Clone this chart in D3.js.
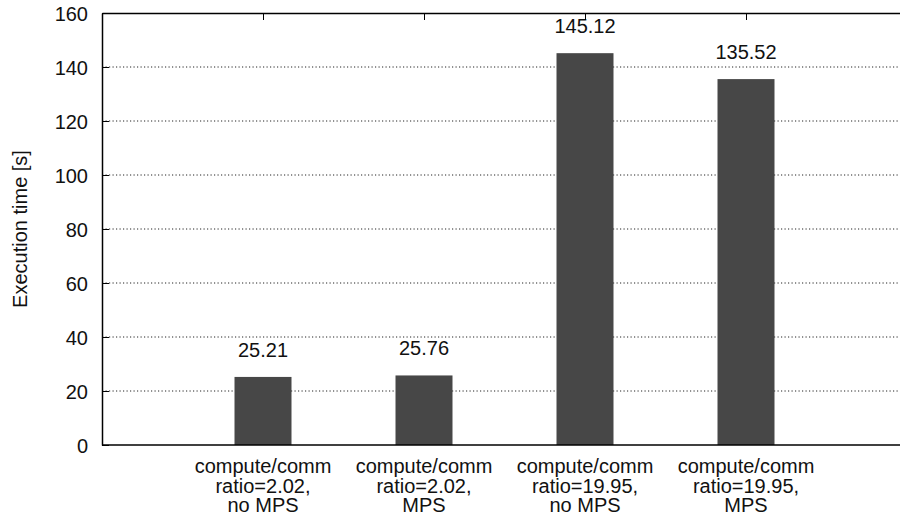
<!DOCTYPE html>
<html>
<head>
<meta charset="utf-8">
<script src="https://cdn.jsdelivr.net/npm/d3@7"></script>
<style>
  html, body { margin: 0; padding: 0; background: #fff; }
  svg { display: block; }
  text { font-family: "Liberation Sans", Arial, Helvetica, sans-serif; fill: #111; }
</style>
</head>
<body>
<svg id="chart" width="900" height="518"></svg>
<script>
const categories = [
  ["compute/comm", "ratio=2.02,", "no MPS"],
  ["compute/comm", "ratio=2.02,", "MPS"],
  ["compute/comm", "ratio=19.95,", "no MPS"],
  ["compute/comm", "ratio=19.95,", "MPS"]
];
const values = [25.21, 25.76, 145.12, 135.52];
const yTicks = [0, 20, 40, 60, 80, 100, 120, 140, 160];
const yLabel = "Execution time [s]";

(function () {
const svg = d3.select("#chart");
const mLeft = 102, mRight = 907, mTop = 13, mBottom = 445;
const fs = 20;

const x = d3.scaleLinear().domain([-1, 4]).range([mLeft, mRight]);
const y = d3.scaleLinear().domain([0, 160]).range([mBottom, mTop]);
const barW = (x(1) - x(0)) * 0.354;

// grid
svg.append("g").selectAll("line")
  .data(yTicks.filter(t => t > 0 && t < 160))
  .join("line")
  .attr("x1", mLeft).attr("x2", mRight)
  .attr("y1", d => y(d)).attr("y2", d => y(d))
  .attr("stroke", "#222").attr("stroke-width", 1)
  .attr("stroke-dasharray", "1.2,2.3");

// bars
svg.append("g").selectAll("rect")
  .data(values)
  .join("rect")
  .attr("x", (d, i) => x(i) - barW / 2)
  .attr("width", barW)
  .attr("y", d => y(d))
  .attr("height", d => y(0) - y(d))
  .attr("fill", "#474747");

// value labels
svg.append("g").selectAll("text")
  .data(values)
  .join("text")
  .attr("x", (d, i) => x(i))
  .attr("y", d => y(d) - 20)
  .attr("text-anchor", "middle")
  .attr("font-size", fs)
  .text(d => d.toFixed(2));

// left axis
const yAxis = d3.axisLeft(y).tickValues(yTicks).tickSize(-7).tickPadding(14).tickSizeOuter(0);
const gy = svg.append("g").attr("transform", `translate(${mLeft},0)`).call(yAxis);
gy.select(".domain").attr("stroke", "#000").attr("stroke-width", 1.5);
gy.selectAll(".tick line").attr("stroke", "#000").attr("stroke-width", 1);
gy.selectAll(".tick text").attr("font-size", fs).attr("fill", "#111")
  .attr("font-family", "Liberation Sans, Arial, sans-serif").attr("dy", "0.35em");

// bottom line
svg.append("line").attr("x1", mLeft).attr("x2", mRight)
  .attr("y1", mBottom).attr("y2", mBottom)
  .attr("stroke", "#000").attr("stroke-width", 1.5);

// top axis with mirror ticks
const xAxisTop = d3.axisTop(x).tickValues(d3.range(categories.length)).tickSize(-7).tickFormat("").tickSizeOuter(0);
const gt = svg.append("g").attr("transform", `translate(0,${mTop})`).call(xAxisTop);
gt.select(".domain").attr("stroke", "#000").attr("stroke-width", 1.5);
gt.selectAll(".tick line").attr("stroke", "#000").attr("stroke-width", 1);

// category labels
const catG = svg.append("g").selectAll("text")
  .data(categories)
  .join("text")
  .attr("text-anchor", "middle")
  .attr("font-size", fs);
catG.each(function(lines, i) {
  d3.select(this).selectAll("tspan")
    .data(lines)
    .join("tspan")
    .attr("x", x(i))
    .attr("y", (d, j) => 473 + j * 19.5)
    .text(d => d);
});

// y label
svg.append("text")
  .attr("transform", `translate(27,${(mTop + mBottom) / 2}) rotate(-90)`)
  .attr("text-anchor", "middle")
  .attr("font-size", fs)
  .text(yLabel);
})();
</script>
</body>
</html>
